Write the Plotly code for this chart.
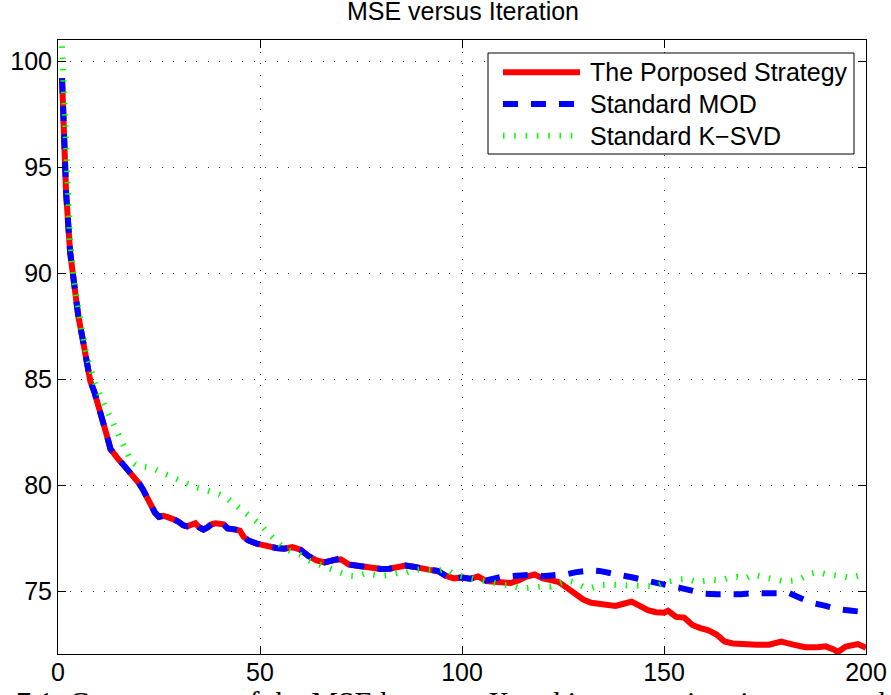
import plotly.graph_objects as go

# ---------------- data ----------------
red_x = [1, 2, 3, 4, 5, 6, 7, 8, 9, 10, 11, 12, 13, 14, 15, 16, 17, 18, 19, 20,
         21, 22, 23, 24, 25, 26, 27, 28, 29, 30, 31, 32, 33, 34, 35, 36, 37, 38, 39, 40,
         41, 42, 43, 44, 45, 46, 47, 48, 49, 50, 52, 54, 56, 58, 60, 62, 64, 66, 68, 70,
         72, 74, 76, 78, 80, 82, 84, 86, 88, 90, 92, 94, 96, 98, 100, 102, 104, 106,
         108, 110, 112, 114, 116, 118, 120, 122, 124, 126, 128, 130, 132, 134, 136, 138,
         140, 142, 144, 146, 148, 150, 151, 153, 155, 157, 159, 161, 163, 165, 167, 170,
         173, 176, 179, 182, 185, 188, 190, 192, 193, 195, 198, 200]
red_y = [99.2, 93.8, 91.0, 89.3, 88.0, 87.0, 85.9, 84.9, 84.4, 83.8, 83.2, 82.4, 81.7, 81.4,
         81.2, 81.0, 80.8, 80.55, 80.35, 80.1, 79.8, 79.45, 79.1, 78.7, 78.5, 78.55, 78.5,
         78.45, 78.35, 78.25, 78.1, 78.05, 78.15, 78.2, 78.0, 77.9, 78.0, 78.15, 78.2, 78.2,
         78.15, 77.95, 77.95, 77.9, 77.85, 77.55, 77.4, 77.3, 77.25, 77.2, 77.1, 77.03, 77.0,
         77.07, 76.95, 76.65, 76.45, 76.35, 76.45, 76.5, 76.25, 76.2, 76.1, 76.05, 76.04,
         76.05, 76.1, 76.2, 76.15, 76.05, 76.0, 75.95, 75.72, 75.6, 75.64, 75.58, 75.69,
         75.47, 75.42, 75.4, 75.38, 75.5, 75.68, 75.78, 75.6, 75.52, 75.42, 75.15, 74.85,
         74.6, 74.45, 74.4, 74.35, 74.3, 74.4, 74.5, 74.3, 74.1, 74.0, 73.98, 74.07, 73.78,
         73.75, 73.4, 73.25, 73.15, 72.95, 72.62, 72.53, 72.48, 72.47, 72.47, 72.62, 72.47,
         72.35, 72.35, 72.39, 72.25, 72.12, 72.38, 72.5, 72.32]

blue_x = [1, 2, 3, 4, 5, 6, 7, 8, 9, 10, 11, 12, 13, 14, 15, 16, 17, 18, 19, 20,
          21, 22, 23, 24, 25, 26, 27, 28, 29, 30, 31, 32, 33, 34, 35, 36, 37, 38, 39, 40,
          41, 42, 43, 44, 45, 46, 47, 48, 49, 50, 52, 54, 56, 58, 60, 62, 64, 66, 68, 70,
          72, 74, 76, 78, 80, 82, 84, 86, 88, 90, 92, 94, 96, 98, 100, 102, 104, 106,
          108, 110, 112, 114, 116, 118, 120, 122, 124, 126, 128, 130, 132, 134, 136, 138,
          140, 142, 144, 146, 148, 150, 152, 154, 156, 158, 160, 163, 166, 169, 172, 175,
          178, 181, 184, 187, 190, 193, 196, 200]
blue_y = [99.2, 93.8, 91.0, 89.3, 88.0, 87.0, 85.9, 84.9, 84.4, 83.8, 83.2, 82.4, 81.7, 81.4,
          81.2, 81.0, 80.8, 80.55, 80.35, 80.1, 79.8, 79.45, 79.1, 78.7, 78.5, 78.55, 78.5,
          78.45, 78.35, 78.25, 78.1, 78.05, 78.15, 78.2, 78.0, 77.9, 78.0, 78.15, 78.2, 78.2,
          78.15, 77.95, 77.95, 77.9, 77.85, 77.55, 77.4, 77.3, 77.25, 77.2, 77.1, 77.03, 77.0,
          77.07, 76.95, 76.65, 76.45, 76.35, 76.45, 76.55, 76.25, 76.2, 76.1, 76.05, 76.04,
          76.05, 76.1, 76.2, 76.15, 76.05, 76.0, 75.95, 75.72, 75.6, 75.64, 75.58, 75.69,
          75.5, 75.6, 75.68, 75.7, 75.72, 75.75, 75.78, 75.7, 75.72, 75.75, 75.8, 75.88,
          75.95, 75.98, 75.95, 75.85, 75.76, 75.72, 75.65, 75.55, 75.48, 75.4, 75.3, 75.22,
          75.15, 75.05, 74.95, 74.88, 74.85, 74.82, 74.85, 74.9, 74.92, 74.93, 74.9, 74.65,
          74.43, 74.3, 74.15, 74.08, 74.0]

green_x = [1, 2, 3, 4, 5, 6, 7, 8, 9, 10, 11, 12, 13, 14, 15, 16, 17, 18, 19, 20,
           22, 24, 26, 28, 30, 32, 34, 36, 38, 40, 42, 44, 46, 48, 50, 52, 54, 56, 58, 60,
           62, 64, 66, 68, 70, 72, 74, 76, 78, 80, 82, 84, 86, 88, 90, 92, 94, 96, 98, 100,
           102, 104, 106, 108, 110, 112, 114, 116, 118, 120, 122, 124, 126, 128, 130, 132,
           134, 136, 138, 140, 142, 144, 146, 148, 150, 152, 154, 156, 158, 160, 162, 164,
           166, 168, 170, 172, 174, 176, 178, 180, 182, 184, 186, 188, 190, 192, 194, 196,
           198, 200]
green_y = [100.7, 95.5, 91.5, 89.6, 88.3, 87.2, 86.2, 85.4, 84.9, 84.4, 84.0, 83.6, 83.2,
           82.85, 82.4, 82.0, 81.5, 81.15, 81.0, 80.9, 80.85, 80.75, 80.57, 80.4, 80.25,
           80.05, 79.9, 79.8, 79.68, 79.55, 79.35, 79.05, 78.75, 78.4, 78.15, 77.75, 77.35,
           77.0, 76.85, 76.7, 76.45, 76.3, 76.2, 76.0, 75.85, 75.72, 75.7, 75.83, 75.78,
           75.72, 75.75, 75.85, 75.85, 76.0, 76.02, 75.95, 75.95, 76.05, 75.8, 75.7, 75.65,
           75.53, 75.47, 75.35, 75.3, 75.28, 75.15, 75.14, 75.2, 75.22, 75.22, 75.35, 75.5,
           75.4, 75.2, 75.15, 75.28, 75.3, 75.28, 75.3, 75.27, 75.24, 75.22, 75.22, 75.4,
           75.5, 75.55, 75.57, 75.43, 75.48, 75.53, 75.5, 75.62, 75.66, 75.58, 75.77, 75.68,
           75.58, 75.48, 75.45, 75.5, 75.6, 75.8, 75.9, 75.8, 75.77, 75.7, 75.62, 75.75, 75.82]

series_names = ["The Porposed Strategy", "Standard MOD", "Standard K\u2212SVD"]
x_ticks = [0, 50, 100, 150, 200]
y_ticks = [75, 80, 85, 90, 95, 100]
title_text = "MSE versus Iteration"
caption_text = "7.1: Convergence of the MSE between X and its approximation versus the iteration"

# ---------------- styling ----------------
W, H = 891, 695
ML, MR, MT, MB = 58, 25, 40, 41
PW, PH = W - ML - MR, H - MT - MB
SANS = "Liberation Sans, Arial, Helvetica"
SERIF = "Liberation Serif, Times New Roman, serif"
styles = [
    dict(color="#FF0000", width=6, dash="solid"),
    dict(color="#0000FF", width=6, dash="15px,13px"),
    dict(color="#00FF00", width=6, dash="1.5px,9.8px"),
]


def px_x(p):
    return (p - ML) / PW


def px_y(p):
    return (H - MB - p) / PH


fig = go.Figure()
for xs, ys, nm, st in zip([red_x, blue_x, green_x], [red_y, blue_y, green_y], series_names, styles):
    fig.add_trace(go.Scatter(x=xs, y=ys, mode="lines", name=nm, line=st, showlegend=False))

axis_common = dict(
    showline=True, linecolor="black", linewidth=1, mirror="allticks",
    ticks="inside", ticklen=8, tickwidth=1, tickcolor="black",
    showgrid=True, gridcolor="#333333", gridwidth=1, griddash="1px,10.5px",
    zeroline=False, automargin=False,
    tickfont=dict(family=SANS, size=25, color="black"),
)
fig.update_xaxes(range=[0, 200], tickvals=x_ticks, ticklabelstandoff=-4, **axis_common)
fig.update_yaxes(range=[72.03, 101.0], tickvals=y_ticks, **axis_common)

# legend box drawn like the MATLAB legend
shapes = [dict(type="rect", xref="paper", yref="paper",
               x0=px_x(488), x1=px_x(854), y0=px_y(154), y1=px_y(53),
               fillcolor="white", line=dict(color="black", width=1), layer="above")]
annotations = []
entry_y = [72.3, 104.0, 135.7]
for nm, st, ey in zip(series_names, styles, entry_y):
    shapes.append(dict(type="line", xref="paper", yref="paper",
                       x0=px_x(503), x1=px_x(580), y0=px_y(ey), y1=px_y(ey),
                       line=dict(color=st["color"], width=st["width"], dash=st["dash"]),
                       layer="above"))
    annotations.append(dict(text=nm, xref="paper", yref="paper", x=px_x(588), y=px_y(ey),
                            xanchor="left", yanchor="middle", showarrow=False,
                            font=dict(family=SANS, size=25, color="black")))

annotations.append(dict(text=caption_text, xref="paper", yref="paper", x=px_x(14), y=px_y(683),
                        xanchor="left", yanchor="top", showarrow=False,
                        font=dict(family=SERIF, size=30, color="black")))

fig.update_layout(
    width=W, height=H, autosize=False,
    margin=dict(l=ML, r=MR, t=MT, b=MB),
    plot_bgcolor="white", paper_bgcolor="white",
    title=dict(text=title_text, x=463 / W, xanchor="center", y=1 - 11.5 / H, yanchor="middle",
               font=dict(family=SANS, size=25, color="black")),
    showlegend=False,
    shapes=shapes,
    annotations=annotations,
)

fig.write_html("out.html")
